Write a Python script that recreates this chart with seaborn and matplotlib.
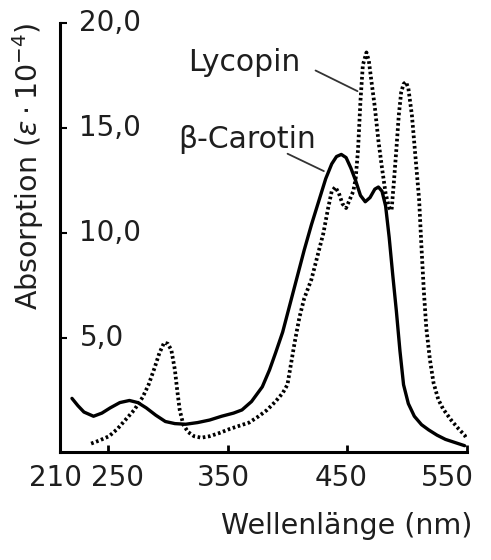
import matplotlib
matplotlib.use("Agg")
import matplotlib.pyplot as plt
import matplotlib.transforms as mtransforms
import seaborn as sns
import pandas as pd

# ---- data ----
caro_nm = [220, 225, 230, 238, 245, 252, 260, 268, 275, 282, 290, 298, 306, 315,
           325, 335, 345, 355, 362, 370, 379, 385, 390, 396, 402, 408, 414, 420,
           426, 432, 437, 441, 445, 449, 453, 457, 461, 465, 469, 473, 476, 479,
           482, 485, 488, 491, 494, 497, 501, 506, 512, 518, 525, 532, 540, 548]
caro_abs = [2.15, 1.8, 1.5, 1.3, 1.45, 1.7, 1.95, 2.05, 1.95, 1.7, 1.35, 1.05, 0.95, 0.92,
            1.0, 1.12, 1.3, 1.45, 1.6, 2.0, 2.7, 3.5, 4.3, 5.3, 6.6, 7.9, 9.2, 10.4,
            11.5, 12.6, 13.3, 13.65, 13.75, 13.6, 13.1, 12.5, 11.8, 11.5, 11.7, 12.1, 12.2, 12.0,
            11.3, 9.8, 8.0, 6.3, 4.4, 2.8, 1.9, 1.3, 0.9, 0.65, 0.4, 0.2, 0.05, -0.1]

lyco_nm = [236, 243, 251, 258, 265, 272, 279, 284, 289, 293, 297, 300, 303, 306,
           308, 310, 313, 317, 322, 328, 335, 343, 352, 360, 368, 376, 383, 390,
           396, 400, 403, 406, 410, 414, 420, 425, 430, 434, 437, 440, 443, 446,
           449, 452, 455, 457, 459, 461, 463, 466, 468, 470, 473, 476, 479, 482,
           485, 487, 489, 491, 493, 495, 497, 499, 501, 504, 507, 510, 512, 514,
           516, 519, 522, 526, 530, 537, 543, 548, 550]
lyco_abs = [0.0, 0.15, 0.35, 0.7, 1.15, 1.6, 2.2, 2.8, 3.6, 4.3, 4.8, 4.75, 4.45, 3.5,
            2.5, 1.6, 0.9, 0.55, 0.35, 0.28, 0.35, 0.5, 0.7, 0.85, 1.0, 1.3, 1.6, 2.0,
            2.4, 2.8, 3.8, 4.8, 6.0, 6.9, 7.8, 8.9, 10.0, 11.2, 12.0, 12.2, 11.9, 11.4,
            11.2, 11.6, 12.0, 12.6, 14.0, 16.3, 18.0, 18.6, 18.2, 17.3, 16.0, 14.4, 13.1, 11.9,
            11.2, 11.1, 12.5, 14.0, 15.6, 16.7, 17.1, 17.2, 16.9, 15.6, 13.6, 11.6, 9.3, 7.2,
            5.5, 4.0, 2.9, 2.1, 1.65, 1.1, 0.7, 0.4, 0.2]

x_ticks = [210, 250, 350, 450, 550]
x_tick_labels = ["210", "250", "350", "450", "550"]
y_ticks = [5.0, 10.0, 15.0, 20.0]
y_tick_labels = ["5,0", "10,0", "15,0", "20,0"]

caro_df = pd.DataFrame({"nm": caro_nm, "abs": caro_abs})
lyco_df = pd.DataFrame({"nm": lyco_nm, "abs": lyco_abs})

sns.set_theme(style="white")
plt.rcParams["font.family"] = ["DejaVu Sans"]
plt.rcParams["mathtext.fontset"] = "dejavusans"

TXT = "#1e1e1e"

fig = plt.figure(figsize=(4.91, 5.60), dpi=100)
ax = fig.add_axes([60 / 491, 1 - 452 / 560, 407 / 491, 429 / 560])

sns.lineplot(data=caro_df, x="nm", y="abs", ax=ax, color="black", lw=2.4,
             sort=False, estimator=None)
sns.lineplot(data=lyco_df, x="nm", y="abs", ax=ax, color="black", lw=2.7,
             linestyle=(0, (0.7, 0.7)), sort=False, estimator=None)

ax.set_xlim(210, 550)
ax.set_ylim(-0.4, 20.0)

for s in ["top", "right"]:
    ax.spines[s].set_visible(False)
for s in ["left", "bottom"]:
    ax.spines[s].set_color("black")
    ax.spines[s].set_linewidth(2.2)

ax.set_xticks(x_ticks)
ax.set_xticklabels(x_tick_labels)
ax.set_yticks(y_ticks)
ax.set_yticklabels(y_tick_labels)
ax.tick_params(axis="x", direction="in", length=5, width=2, colors="black",
               labelsize=20, pad=9, bottom=True, labelcolor=TXT)
ax.tick_params(axis="y", direction="in", length=5, width=1.5, colors="black",
               labelsize=20, pad=-14, left=True, labelcolor=TXT)
for lbl in ax.get_yticklabels():
    lbl.set_horizontalalignment("left")
    lbl.set_verticalalignment("center")

# small horizontal shifts of the x tick labels, as typeset in the reference (pixels)
x_label_shift = [-4, 10, -4, -6, -20]
for lbl, dx in zip(ax.get_xticklabels(), x_label_shift):
    lbl.set_transform(lbl.get_transform() +
                      mtransforms.ScaledTranslation(dx / 100, 0, fig.dpi_scale_trans))

ax.set_xlabel("Wellenlänge (nm)", fontsize=20.5, color=TXT)
ax.xaxis.set_label_coords(1.012, -0.14)
ax.xaxis.label.set_horizontalalignment("right")

ax.set_ylabel(r"Absorption ($\varepsilon\cdot10^{-4}$)", fontsize=20.5, color=TXT)
ax.yaxis.set_label_coords(-0.035, 0.665)

ax.text(364, 18.1, "Lycopin", fontsize=21.5, ha="center", va="center", color=TXT)
ax.annotate("", xy=(460.6, 16.7), xytext=(421.4, 17.8),
            arrowprops=dict(arrowstyle="-", lw=1.3, color="#333333"))
ax.text(366, 14.46, "β-Carotin", fontsize=21.5, ha="center", va="center", color=TXT)
ax.annotate("", xy=(432.5, 12.9), xytext=(398, 13.84),
            arrowprops=dict(arrowstyle="-", lw=1.3, color="#333333"))

ax.grid(False)
fig.savefig("out.png", dpi=100)
